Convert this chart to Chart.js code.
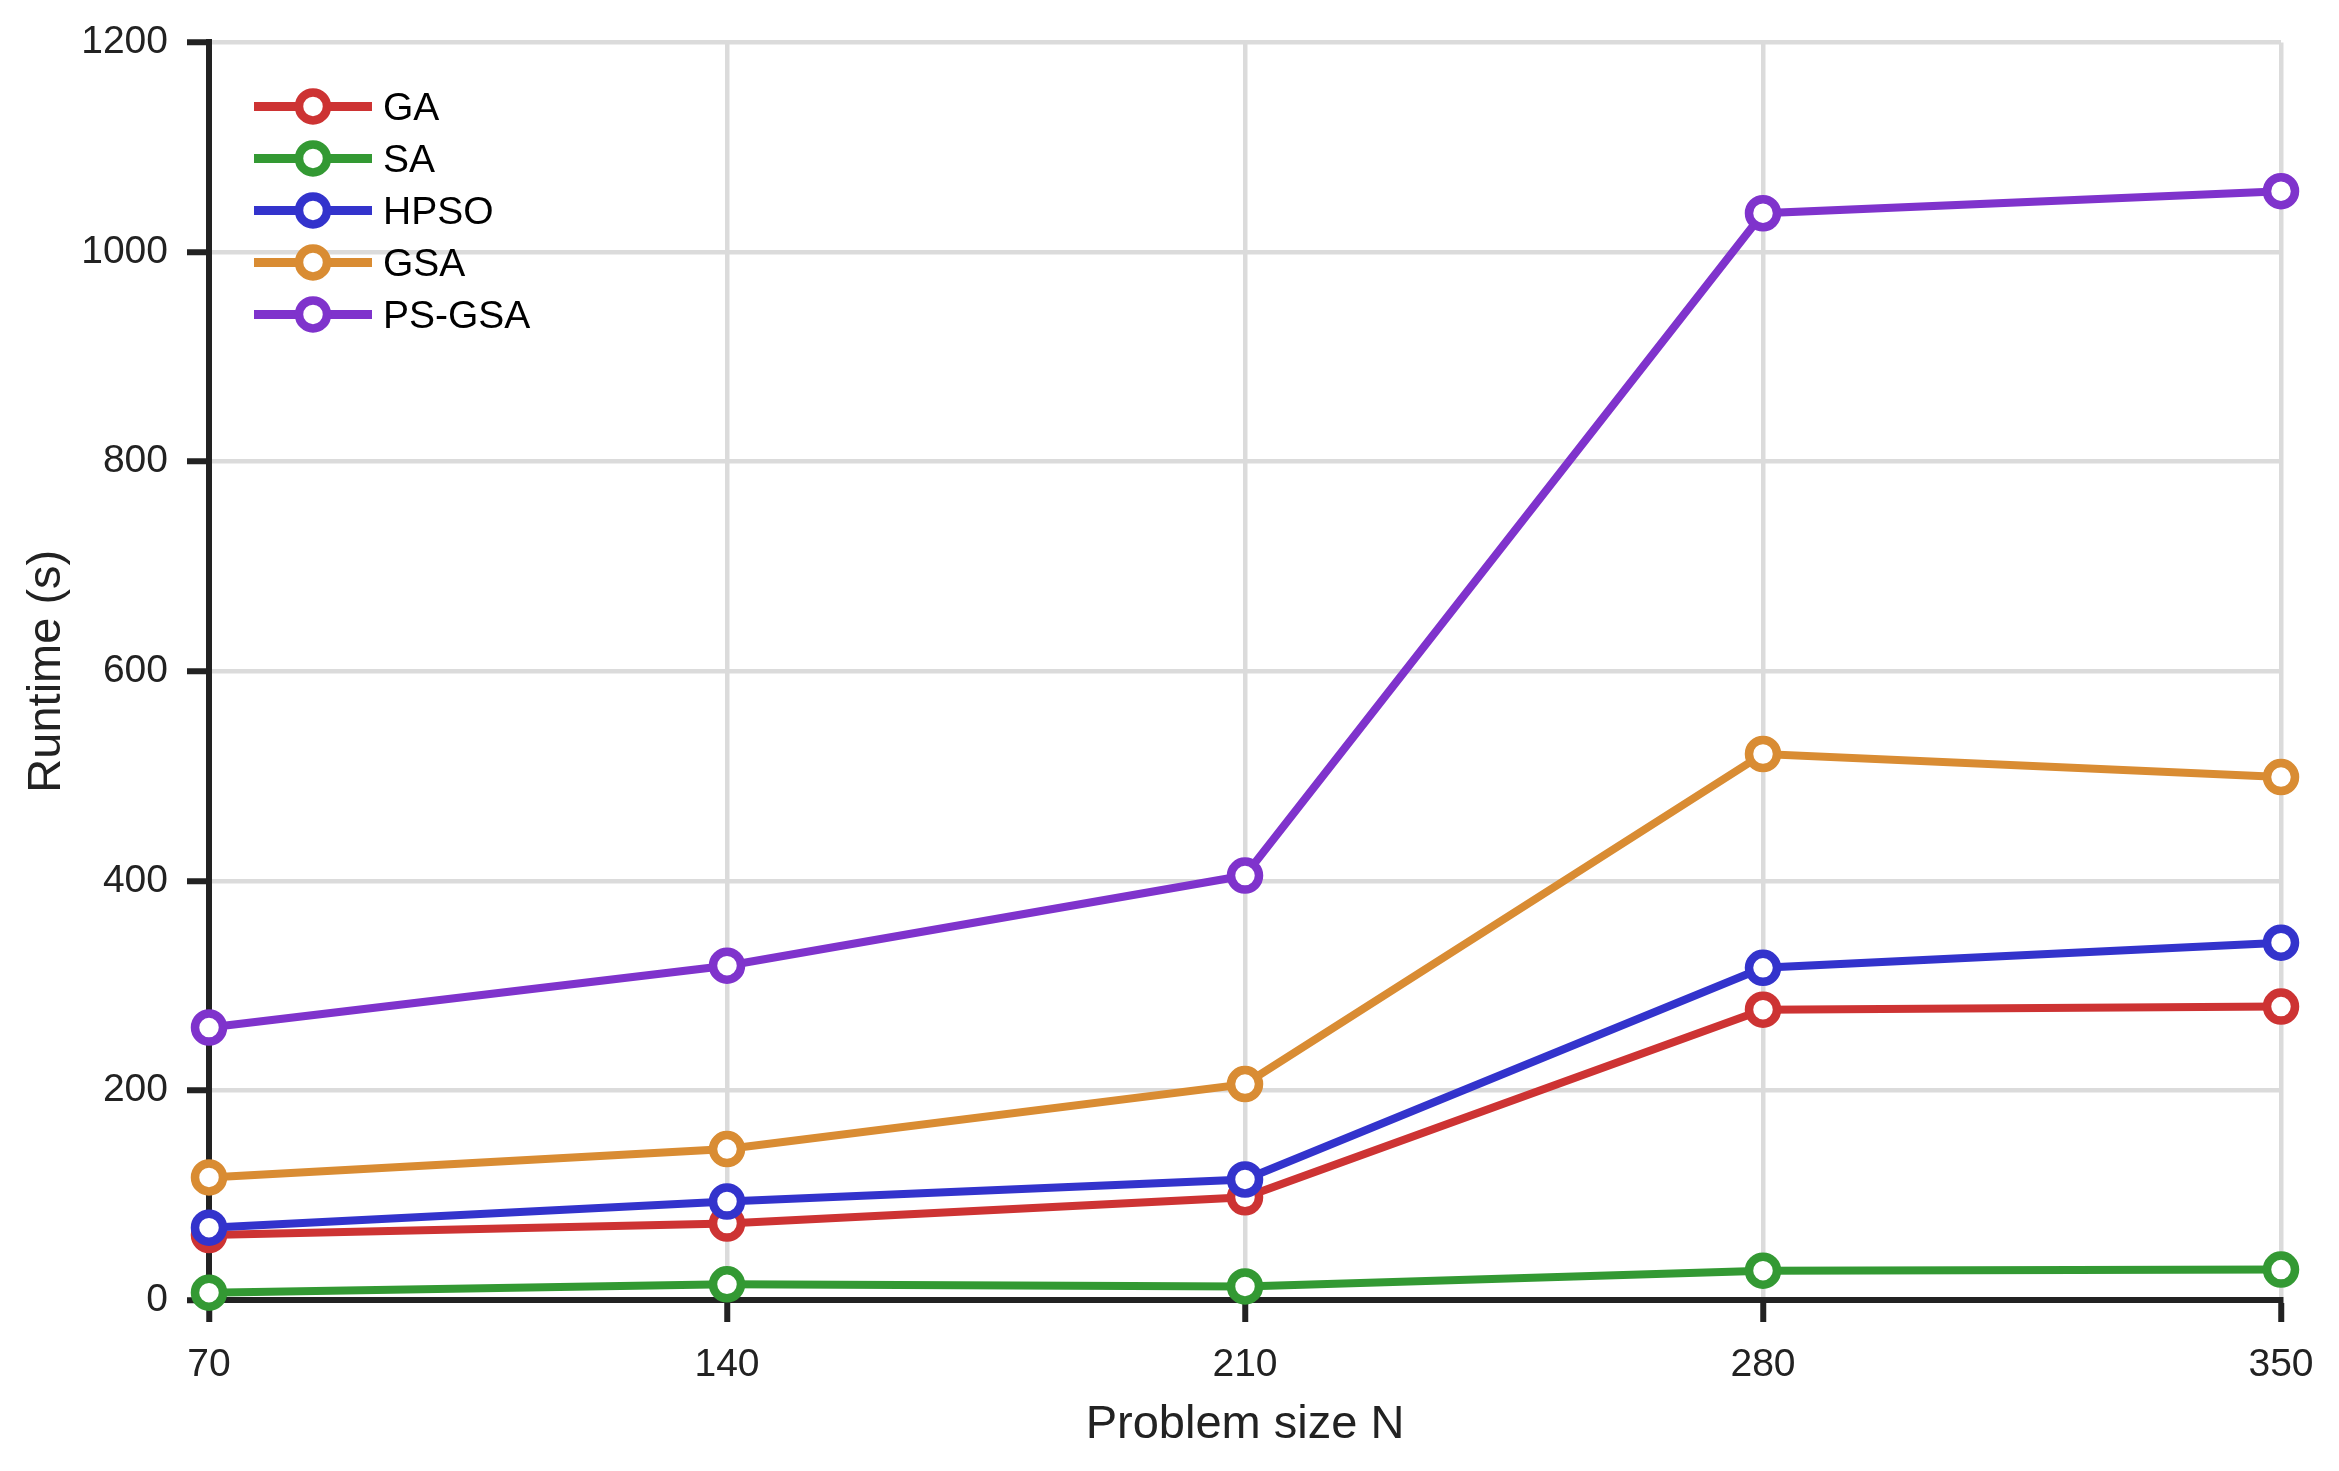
<!DOCTYPE html>
<html>
<head>
<meta charset="utf-8">
<script src="https://cdn.jsdelivr.net/npm/chart.js@4.4.1/dist/chart.umd.min.js"></script>
<style>
  html, body { margin: 0; padding: 0; background: #ffffff; }
  #wrap { width: 2339px; height: 1471px; }
</style>
</head>
<body>
<div id="wrap"><canvas id="c" width="2339" height="1471"></canvas></div>
<script>
// ---- data ----
const categories = ['70', '140', '210', '280', '350'];
const seriesNames = ['GA', 'SA', 'HPSO', 'GSA', 'PS-GSA'];
const gaValues    = [62, 73, 98, 277, 280];
const saValues    = [7, 15, 13, 28, 29];
const hpsoValues  = [69, 94, 115, 317, 341];
const gsaValues   = [117, 144, 206, 521, 499];
const psgsaValues = [260, 319, 405, 1037, 1058];
const yTicks      = [0, 200, 400, 600, 800, 1000, 1200];
const xTitle = 'Problem size N';
const yTitle = 'Runtime (s)';

// ---- styles ----
const colors = ['#CD3333', '#339933', '#3333CC', '#D98C33', '#7F33CC'];
const allValues = [gaValues, saValues, hpsoValues, gsaValues, psgsaValues];
const FONT = '"Liberation Sans", Arial, Helvetica, sans-serif';

const datasets = allValues.map((vals, i) => ({
  label: seriesNames[i],
  data: vals,
  borderColor: colors[i],
  backgroundColor: '#ffffff',
  borderWidth: 8,
  pointRadius: 14,
  pointHoverRadius: 14,
  pointBorderWidth: 8.5,
  pointBackgroundColor: '#ffffff',
  pointBorderColor: colors[i],
  tension: 0,
  fill: false,
  clip: false,
  order: allValues.length - i
}));

const insideLegend = {
  id: 'insideLegend',
  afterDraw(chart) {
    const ctx = chart.ctx;
    const area = chart.chartArea;
    const x0 = area.left + 45;
    chart.data.datasets.forEach((ds, i) => {
      const y = area.top + 64 + i * 52;
      ctx.save();
      ctx.strokeStyle = ds.borderColor;
      ctx.lineWidth = 9;
      ctx.beginPath();
      ctx.moveTo(x0, y);
      ctx.lineTo(x0 + 118, y);
      ctx.stroke();
      ctx.beginPath();
      ctx.arc(x0 + 59, y, 14, 0, Math.PI * 2);
      ctx.fillStyle = '#ffffff';
      ctx.fill();
      ctx.lineWidth = 8.5;
      ctx.stroke();
      ctx.fillStyle = '#000000';
      ctx.font = '39px ' + FONT;
      ctx.textBaseline = 'middle';
      ctx.textAlign = 'left';
      ctx.fillText(ds.label, x0 + 129, y + 3);
      ctx.restore();
    });
  }
};

new Chart(document.getElementById('c'), {
  type: 'line',
  data: { labels: categories, datasets: datasets },
  options: {
    responsive: false,
    animation: false,
    devicePixelRatio: 1,
    layout: { padding: { top: 40, right: 58, left: 0, bottom: 0 } },
    plugins: {
      legend: { display: false },
      tooltip: { enabled: false },
      title: { display: false }
    },
    scales: {
      x: {
        type: 'category',
        offset: false,
        grid: {
          color: '#dbdbdb',
          lineWidth: 4.5,
          tickColor: '#222222',
          tickWidth: 6,
          tickLength: 22,
          drawOnChartArea: true
        },
        border: { color: '#222222', width: 6 },
        ticks: {
          color: '#222222',
          font: { family: FONT, size: 39 },
          padding: 20,
          maxRotation: 0
        },
        title: {
          display: true,
          text: xTitle,
          color: '#222222',
          font: { family: FONT, size: 47 },
          padding: { top: 0, bottom: 18 }
        },
        afterFit(scale) { scale.height = 171; }
      },
      y: {
        type: 'linear',
        min: yTicks[0],
        max: yTicks[yTicks.length - 1],
        afterBuildTicks(scale) { scale.ticks = yTicks.map(v => ({ value: v })); },
        grid: {
          color: '#dbdbdb',
          lineWidth: 4.5,
          tickColor: '#222222',
          tickWidth: 6,
          tickLength: 22
        },
        border: { color: '#222222', width: 6 },
        ticks: {
          color: '#222222',
          font: { family: FONT, size: 39 },
          padding: 19,
          callback: (value) => String(value)
        },
        title: {
          display: true,
          text: yTitle,
          color: '#222222',
          font: { family: FONT, size: 47 },
          padding: { top: 19, bottom: 0 }
        },
        afterFit(scale) { scale.width = 209; }
      }
    }
  },
  plugins: [insideLegend]
});
</script>
</body>
</html>
